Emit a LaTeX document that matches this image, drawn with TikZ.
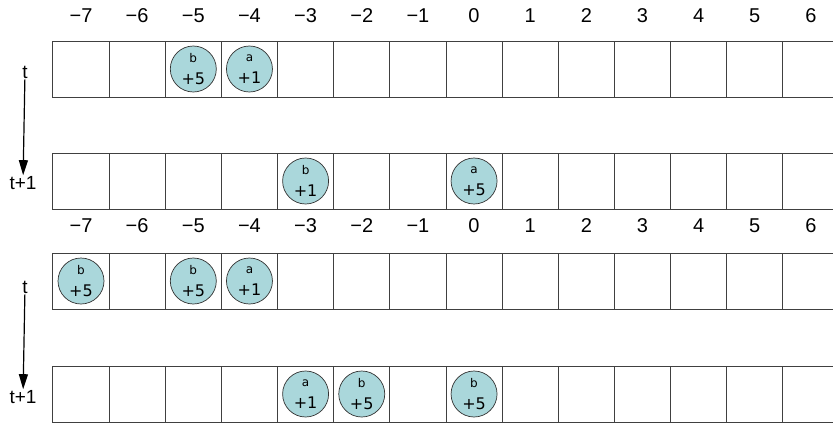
\documentclass[tikz,border=0pt]{standalone}
\usepackage{fontspec}
\setmainfont{Liberation Sans}
\newfontfamily\particlefont{DejaVu Sans}
\usetikzlibrary{arrows.meta,positioning}
\definecolor{particlefill}{RGB}{170,215,219}

\begin{document}
\begin{tikzpicture}[x=1pt, y=-1pt,
  cell/.style={rectangle, draw=black!75, line width=0.9pt, minimum width=56.15pt, minimum height=56pt, inner sep=0pt, outer sep=0pt},
  particle/.style={circle, draw=black!80, line width=0.7pt, fill=particlefill, minimum size=46pt, inner sep=0pt, align=center, font=\particlefont\fontsize{16}{22}\selectfont},
  axislabel/.style={font=\fontsize{20}{20}\selectfont},
  timelabel/.style={font=\fontsize{19}{19}\selectfont, inner sep=1pt},
  timearrow/.style={draw, line width=1.2pt, -{Triangle[width=9pt,length=15pt]}}
]
  \useasboundingbox (0,0) rectangle (833,426);
  \clip (0,0) rectangle (833,426);

  % position numbers
  \foreach \v [count=\i from 0] in {-7,...,6} {
    \node[axislabel] (topnum\i) at (81+56.15*\i, 16) {\ifnum\v<0 −\number-\v\else\v\fi};
    \node[axislabel] (midnum\i) at (81+56.15*\i, 226) {\ifnum\v<0 −\number-\v\else\v\fi};
  }

  % rows of cells
  \foreach \r/\y in {A/69, B/181, C/281, D/394}
    \foreach \i in {0,...,13}
      \node[cell] (\r\i) at (81+56.15*\i, \y) {};

  % particles
  \foreach \c/\l/\val in {A2/b/+5, A3/a/+1, B4/b/+1, B7/a/+5,
                          C0/b/+5, C2/b/+5, C3/a/+1,
                          D4/a/+1, D5/b/+5, D7/b/+5}
    \node[particle] (p\c) at (\c) {\fontsize{12}{12}\selectfont\l\\\val};

  % time steps
  \node[timelabel] (tA) at (25,72) {t};
  \node[timelabel] (tB) at (23,183) {t+1};
  \node[timelabel] (tC) at (25,287) {t};
  \node[timelabel] (tD) at (23,397) {t+1};
  \draw[timearrow] (tA) -- (tB);
  \draw[timearrow] (tC) -- (tD);
\end{tikzpicture}
\end{document}
